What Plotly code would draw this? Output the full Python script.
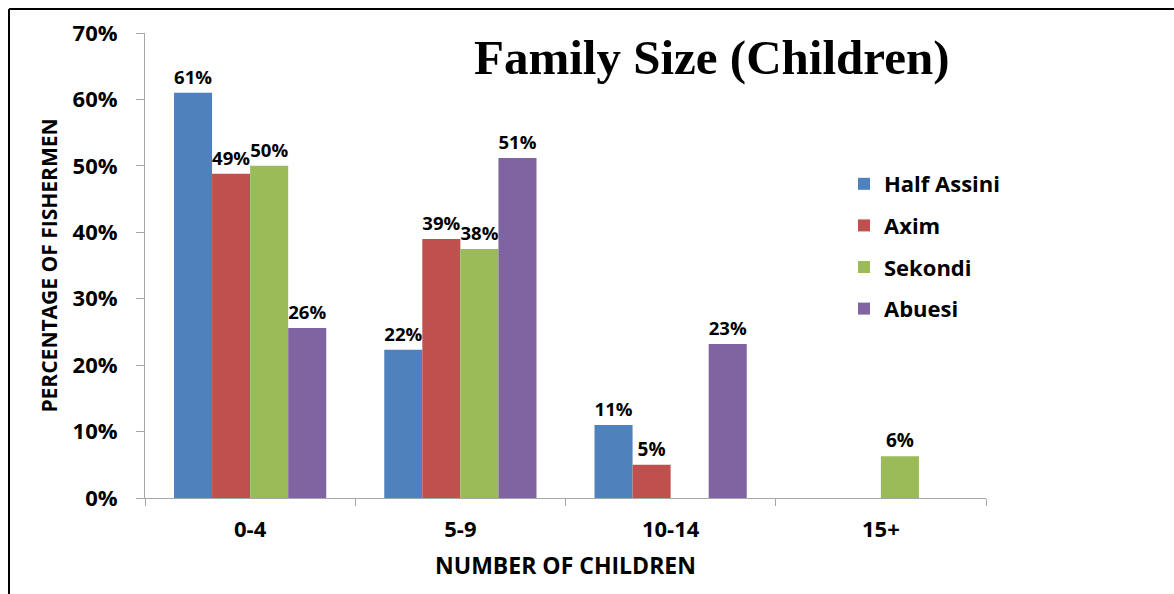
import plotly.graph_objects as go

categories = ["0-4", "5-9", "10-14", "15+"]
series_names = ["Half Assini", "Axim", "Sekondi", "Abuesi"]
half_assini = [0.61, 0.223, 0.11, None]
axim = [0.488, 0.39, 0.05, None]
sekondi = [0.50, 0.375, None, 0.063]
abuesi = [0.256, 0.512, 0.232, None]
labels_half_assini = ["61%", "22%", "11%", ""]
labels_axim = ["49%", "39%", "5%", ""]
labels_sekondi = ["50%", "38%", "", "6%"]
labels_abuesi = ["26%", "51%", "23%", ""]
colors = ["#4F81BD", "#C0504D", "#9BBB59", "#8064A2"]

W, H = 1174, 594
L, R, T, B = 145, 986, 33, 498

fig = go.Figure()
for i, (name, vals, labs) in enumerate(zip(series_names,
                                          [half_assini, axim, sekondi, abuesi],
                                          [labels_half_assini, labels_axim, labels_sekondi, labels_abuesi])):
    fig.add_trace(go.Bar(
        x=categories, y=vals, name=name, marker_color=colors[i],
        marker_line_width=0, legendgroup=name,
        text=labs, textposition="outside", cliponaxis=False,
        textfont=dict(family="Open Sans", size=19, color="black", weight="bold"),
    ))

px = lambda x: (x - L) / (R - L)
py = lambda y: (B - y) / (B - T)

fig.update_layout(
    width=W, height=H,
    margin=dict(l=L, r=W - R, t=T, b=H - B),
    paper_bgcolor="white", plot_bgcolor="white",
    barmode="group", bargap=0.276, bargroupgap=0,
    font=dict(family="Open Sans", color="black"),
    showlegend=True,
    legend=dict(x=px(844), y=py(163), xanchor="left", yanchor="top",
                font=dict(family="Open Sans", size=22, color="black", weight="bold"),
                tracegroupgap=10, itemwidth=30, bgcolor="rgba(0,0,0,0)"),
    shapes=[
        dict(type="line", xref="paper", yref="paper",
             x0=px(9), x1=px(1174), y0=py(9), y1=py(9),
             line=dict(color="black", width=2)),
        dict(type="line", xref="paper", yref="paper",
             x0=px(9), x1=px(9), y0=py(9), y1=py(594),
             line=dict(color="black", width=2)),
    ],
    annotations=[
        dict(text="<b>Family Size (Children)</b>", xref="paper", yref="paper",
             x=px(711), y=py(57), xanchor="center", yanchor="middle", showarrow=False,
             font=dict(family="Liberation Serif", size=49, color="black")),
    ],
)

fig.update_yaxes(
    range=[0, 0.7], tickvals=[0, 0.1, 0.2, 0.3, 0.4, 0.5, 0.6, 0.7],
    tickformat=".0%", showgrid=False, zeroline=False,
    showline=True, linecolor="#A6A6A6", linewidth=1,
    ticks="outside", ticklen=8, tickcolor="#A6A6A6",
    ticklabelstandoff=14,
    tickfont=dict(family="Open Sans", size=22, color="black", weight="bold"),
    title=dict(text="PERCENTAGE OF FISHERMEN", standoff=9,
               font=dict(family="Open Sans", size=21, color="black", weight="bold")),
)
fig.update_xaxes(
    showgrid=False, showline=True, linecolor="#A6A6A6", linewidth=1,
    ticks="outside", ticklen=7, tickcolor="#A6A6A6", tickson="boundaries",
    ticklabelstandoff=12,
    tickfont=dict(family="Open Sans", size=22, color="black", weight="bold"),
    title=dict(text="NUMBER OF CHILDREN", standoff=15,
               font=dict(family="Open Sans", size=23, color="black", weight="bold")),
)

fig.write_html("out.html", config={"displayModeBar": False},
               post_script="document.body.style.margin='0';")
